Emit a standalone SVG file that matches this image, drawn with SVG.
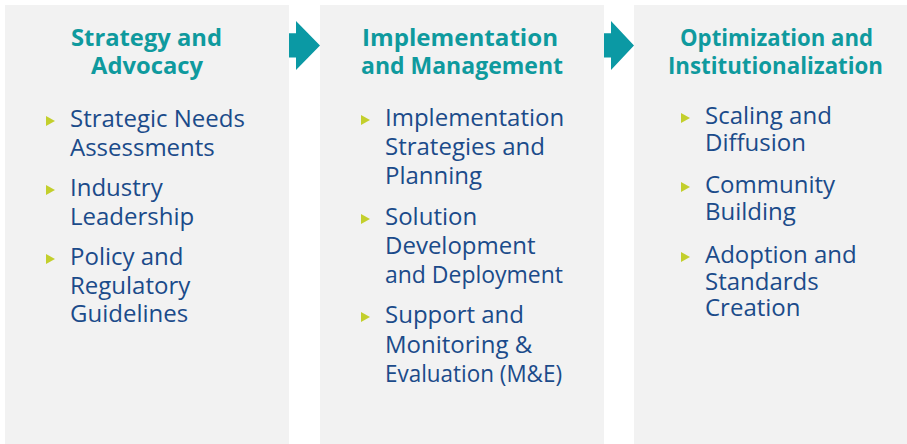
<svg xmlns="http://www.w3.org/2000/svg" width="907" height="444" viewBox="0 0 907 444">
  <style>
    .panel { fill: #f2f2f2; }
    .title { font-family: "Open Sans", "Liberation Sans", sans-serif; font-weight: 700; font-size: 23px; fill: #0f9a9e; text-anchor: middle; }
    .item { font-family: "Open Sans", "Liberation Sans", sans-serif; font-weight: 400; font-size: 24px; fill: #1b4b8a; }
    .bullet { fill: #c3cf2c; }
    .arrow { fill: #0b99a4; }
  </style>
  <defs>
    <polygon id="bul" points="0,-5 9,0 0,5"/>
  </defs>
  <rect width="907" height="444" fill="#ffffff"/>

  <g id="node-strategy">
    <rect class="panel" x="5" y="5" width="284" height="439"/>
    <text class="title" x="146.5" y="45.5" textLength="151" lengthAdjust="spacingAndGlyphs">Strategy and</text>
    <text class="title" x="147" y="73.5" textLength="112" lengthAdjust="spacingAndGlyphs">Advocacy</text>
    <use href="#bul" class="bullet" x="46" y="121"/>
    <text class="item" x="70" y="127">Strategic Needs</text>
    <text class="item" x="70" y="155.5">Assessments</text>
    <use href="#bul" class="bullet" x="46" y="190"/>
    <text class="item" x="70" y="196">Industry</text>
    <text class="item" x="70" y="224.5">Leadership</text>
    <use href="#bul" class="bullet" x="46" y="259"/>
    <text class="item" x="70" y="265">Policy and</text>
    <text class="item" x="70" y="293.5">Regulatory</text>
    <text class="item" x="70" y="322">Guidelines</text>
  </g>

  <g id="node-implementation">
    <rect class="panel" x="320" y="5" width="284" height="439"/>
    <text class="title" x="460" y="45.5" textLength="196" lengthAdjust="spacingAndGlyphs">Implementation</text>
    <text class="title" x="462" y="73.5" textLength="202" lengthAdjust="spacingAndGlyphs">and Management</text>
    <use href="#bul" class="bullet" x="361" y="120"/>
    <text class="item" x="385" y="126">Implementation</text>
    <text class="item" x="385" y="155">Strategies and</text>
    <text class="item" x="385" y="184">Planning</text>
    <use href="#bul" class="bullet" x="361" y="219"/>
    <text class="item" x="385" y="225">Solution</text>
    <text class="item" x="385" y="254">Development</text>
    <text class="item" x="385" y="283" textLength="178" lengthAdjust="spacingAndGlyphs">and Deployment</text>
    <use href="#bul" class="bullet" x="361" y="317"/>
    <text class="item" x="385" y="323">Support and</text>
    <text class="item" x="385" y="352.5">Monitoring &amp;</text>
    <text class="item" x="385" y="382" textLength="177" lengthAdjust="spacingAndGlyphs">Evaluation (M&amp;E)</text>
  </g>

  <g id="node-optimization">
    <rect class="panel" x="634" y="5" width="284" height="439"/>
    <text class="title" x="776.5" y="45.5" textLength="193" lengthAdjust="spacingAndGlyphs">Optimization and</text>
    <text class="title" x="775.5" y="73.5" textLength="215" lengthAdjust="spacingAndGlyphs">Institutionalization</text>
    <use href="#bul" class="bullet" x="681" y="118"/>
    <text class="item" x="705" y="124">Scaling and</text>
    <text class="item" x="705" y="151">Diffusion</text>
    <use href="#bul" class="bullet" x="681" y="187"/>
    <text class="item" x="705" y="193">Community</text>
    <text class="item" x="705" y="220">Building</text>
    <use href="#bul" class="bullet" x="681" y="257"/>
    <text class="item" x="705" y="263">Adoption and</text>
    <text class="item" x="705" y="289.5">Standards</text>
    <text class="item" x="705" y="316">Creation</text>
  </g>

  <g id="connectors">
    <polygon class="arrow" points="289,33.3 296,33.3 296,21 320,45.5 296,70 296,57.5 289,57.5"/>
    <polygon class="arrow" points="604,33.3 611,33.3 611,21 634,45.5 611,70 611,57.5 604,57.5"/>
  </g>
</svg>
